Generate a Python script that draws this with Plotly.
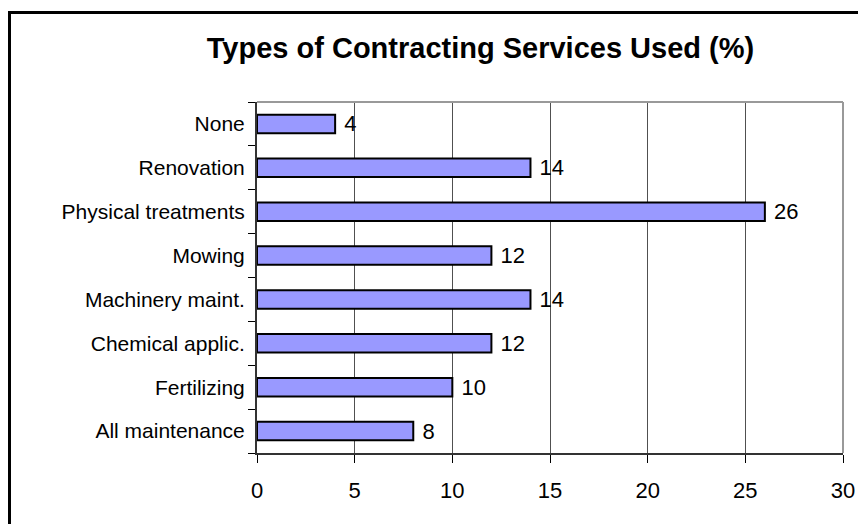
import plotly.graph_objects as go

categories = ["All maintenance", "Fertilizing", "Chemical applic.", "Machinery maint.",
              "Mowing", "Physical treatments", "Renovation", "None"]
values = [8, 10, 12, 14, 12, 26, 14, 4]
x_ticks = [0, 5, 10, 15, 20, 25, 30]
title_text = "Types of Contracting Services Used (%)"

# page body has an 8px margin, so the figure is sized to fit the window
W, H = 858, 516
L, R, T, B = 249, 23, 94, 71
pw, ph = W - L - R, H - T - B

fig = go.Figure(go.Bar(
    y=categories, x=values, orientation="h",
    marker=dict(color="#9999FF", line=dict(color="#000000", width=2)),
    text=["\u00a0" + str(v) for v in values], textposition="outside",
    constraintext="none", textangle=0,
    textfont=dict(family="Liberation Sans, Arial", size=22, color="#000"),
    cliponaxis=False,
))

def px_x(x):
    return (x - L) / pw

def px_y(y):
    return (H - B - y) / ph

fig.update_layout(
    width=W, height=H,
    margin=dict(l=L, r=R, t=T, b=B, pad=0),
    paper_bgcolor="white", plot_bgcolor="white",
    bargap=0.58,
    showlegend=False,
    title=dict(text="<b>" + title_text + "</b>", x=472.5 / W, xref="container", xanchor="center",
               y=1 - 40 / H, yref="container", yanchor="middle",
               font=dict(family="Liberation Sans, Arial", size=29, color="#000")),
    xaxis=dict(range=[0, 30], tickvals=x_ticks, ticks="outside", ticklen=8, tickcolor="#000",
               showgrid=True, gridcolor="#505050", gridwidth=1,
               showline=True, linecolor="#333", linewidth=2, zeroline=False,
               ticklabelstandoff=9,
               tickfont=dict(family="Liberation Sans, Arial", size=22, color="#000")),
    yaxis=dict(categoryorder="array", categoryarray=categories,
               ticks="outside", tickson="boundaries", ticklen=7, tickcolor="#000",
               showline=True, linecolor="#333", linewidth=2, showgrid=False,
               ticklabelstandoff=6,
               tickfont=dict(family="Liberation Sans, Arial", size=21, color="#000")),
    shapes=[
        dict(type="line", xref="paper", yref="paper", x0=0, x1=1, y0=1, y1=1,
             line=dict(color="#999999", width=2)),
        dict(type="line", xref="paper", yref="paper", x0=1, x1=1, y0=0, y1=1,
             line=dict(color="#999999", width=2)),
        dict(type="rect", xref="paper", yref="paper",
             x0=px_x(1.5), x1=px_x(880), y0=px_y(4.5), y1=px_y(540),
             line=dict(color="#000000", width=3), layer="above"),
    ],
)

fig.write_html("out.html")
